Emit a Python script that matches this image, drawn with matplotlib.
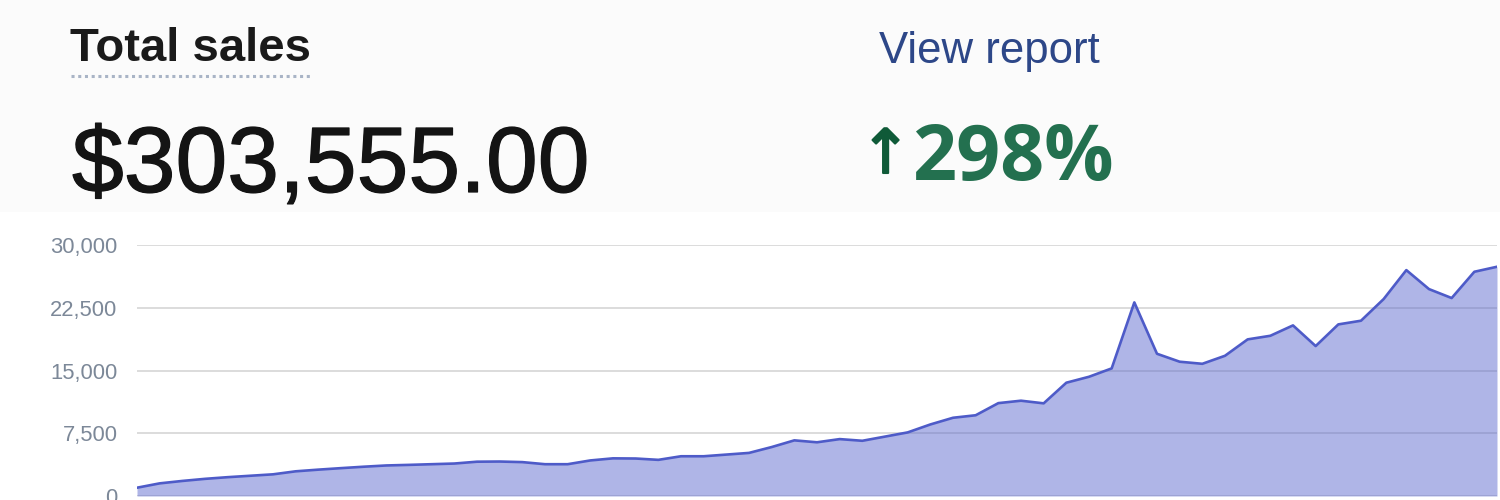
import matplotlib
matplotlib.use("Agg")
import matplotlib.pyplot as plt
from matplotlib.lines import Line2D
from matplotlib.patches import Rectangle
import matplotlib.patheffects as pe

# ---- data ----
sales = [990, 1510, 1800, 2050, 2250, 2420, 2590, 2950, 3150, 3330,
         3500, 3650, 3720, 3800, 3880, 4100, 4120, 4050, 3800, 3800,
         4250, 4500, 4480, 4320, 4750, 4750, 4950, 5150, 5850, 6650,
         6420, 6800, 6600, 7100, 7600, 8550, 9350, 9650, 11100, 11390,
         11075, 13540, 14250, 15250, 23140, 17000, 16050, 15800, 16760, 18720,
         19150, 20390, 17920, 20510, 20950, 23540, 27000, 24730, 23660, 26800,
         27400]
periods = list(range(len(sales)))
y_ticks = [0, 7500, 15000, 22500, 30000]
y_tick_labels = ["0", "7,500", "15,000", "22,500", "30,000"]
title_text = "Total sales"
total_text = "$303,555.00"
link_text = "View report"
arrow_text = "\u2191"
change_text = "298%"

W, H = 1500, 500
fig = plt.figure(figsize=(W / 100, H / 100), dpi=100, facecolor="white")

def fx(px):
    return px / W

def fy(py):
    return 1 - py / H

# very subtle header background
fig.patches.append(Rectangle((0, fy(212)), 1, 1 - fy(212), transform=fig.transFigure,
                             facecolor="#fbfbfb", edgecolor="none", zorder=0))

# header texts
fig.text(fx(70), fy(61), title_text, fontsize=34, fontweight="bold",
         family=["Liberation Sans", "DejaVu Sans"], color="#1a1a1a", va="baseline", ha="left")
fig.lines.append(Line2D([fx(71), fx(311)], [fy(76), fy(76)], transform=fig.transFigure,
                        color="#a9b4c6", linewidth=2.2, linestyle=(0, (1, 1.2))))
fig.text(fx(72), fy(192), total_text, fontsize=67, fontweight="normal",
         family=["Liberation Sans", "DejaVu Sans"], color="#141414", va="baseline", ha="left",
         path_effects=[pe.withStroke(linewidth=0.9, foreground="#141414")])
fig.text(fx(879), fy(63), link_text, fontsize=31.5, fontweight="normal",
         family=["Liberation Sans", "DejaVu Sans"], color="#2d4788", va="baseline", ha="left")
fig.text(fx(860), fy(173), arrow_text, fontsize=44, fontweight="normal",
         family=["DejaVu Sans"], color="#0f5a38", va="baseline", ha="left",
         path_effects=[pe.withStroke(linewidth=1.5, foreground="#0f5a38")])
fig.text(fx(912), fy(180), change_text, fontsize=55.5, fontweight="bold",
         family=["Open Sans", "DejaVu Sans"], color="#23704f", va="baseline", ha="left")

# chart axes
left, right = 137, 1497
top, bottom = 245, 496
ax = fig.add_axes([fx(left), fy(bottom), fx(right) - fx(left), fy(top) - fy(bottom)])
ax.set_facecolor("none")
ax.set_xlim(periods[0], periods[-1])
ax.set_ylim(0, 30000)

ax.set_yticks(y_ticks)
ax.set_yticklabels(y_tick_labels)
ax.tick_params(axis="y", length=0, pad=14, labelsize=15.8, labelcolor="#7c8898")
for lbl in ax.get_yticklabels():
    lbl.set_family(["Liberation Sans", "DejaVu Sans"])
ax.set_xticks([])
for s in ax.spines.values():
    s.set_visible(False)
ax.grid(axis="y", color="#d6d6d6", linewidth=1.2, zorder=0)
ax.set_axisbelow(True)

line_color = "#4e5bc8"
ax.fill_between(periods, sales, 0, color="#5663cc", alpha=0.47, linewidth=0, zorder=2)
ax.plot(periods, sales, color=line_color, linewidth=1.9, zorder=3, solid_joinstyle="round")

fig.savefig("out.png", dpi=100, facecolor=fig.get_facecolor())
